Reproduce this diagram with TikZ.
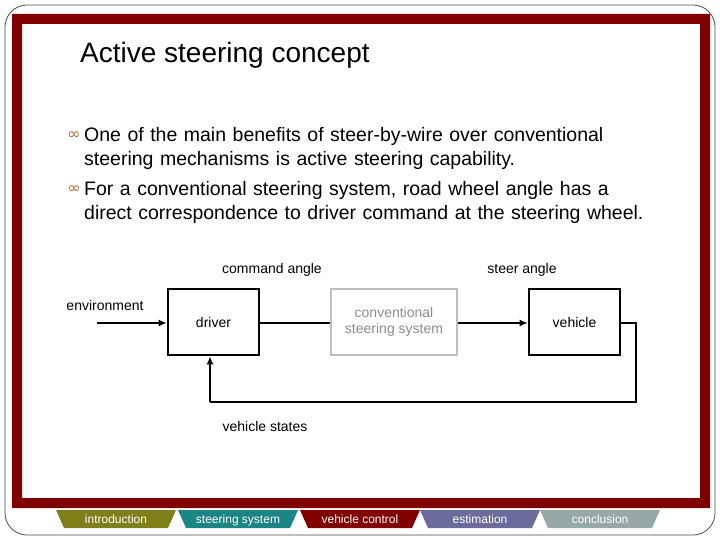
\documentclass[tikz,border=0pt]{standalone}
\usepackage{fontspec}
\usetikzlibrary{arrows.meta}
\setmainfont{Liberation Sans}
\newfontfamily\dejavu{DejaVu Sans}
\definecolor{frame}{HTML}{800000}
\definecolor{tabA}{HTML}{7F7F1A}
\definecolor{tabB}{HTML}{1A8585}
\definecolor{tabC}{HTML}{800000}
\definecolor{tabD}{HTML}{6B6B9C}
\definecolor{tabE}{HTML}{98A8A8}
\definecolor{bul}{HTML}{B07040}
\begin{document}
\begin{tikzpicture}[x=1pt,y=-1pt,
  blk/.style={draw,line width=2.6pt,minimum width=91pt,minimum height=66pt,font=\fontsize{14}{16}\selectfont},
  lbl/.style={font=\fontsize{14}{16}\selectfont},
  wire/.style={line width=2.6pt},
  arr/.style={wire,-{Latex[length=8pt,width=7pt]}},
  tabtxt/.style={text=white,anchor=base,font=\fontsize{12}{14}\selectfont},
  btxt/.style={anchor=west,font=\fontsize{19.5}{24}\selectfont,align=left,text width=630pt}]
\useasboundingbox (0,0) rectangle (720,540);
\fill[white] (0,0) rectangle (720,540);
\draw[black!70,line width=0.8pt,rounded corners=22pt] (5,5) rectangle (715,535);
\fill[frame,even odd rule] (12,14) rectangle (710,508) (22,24) rectangle (700,498);
% tabs
\foreach \x/\c/\t in {56/tabA/introduction,178/tabB/steering system,300/tabC/vehicle control,420/tabD/estimation,540/tabE/conclusion}{
  \fill[\c] (\x,510) -- (\x+120,510) -- (\x+112,528) -- (\x+8,528) -- cycle;
  \node[tabtxt] at (\x+60,523) {\t};
}
\node[anchor=base west,inner sep=0pt,font=\fontsize{28}{32}\selectfont] (title) at (80,63) {Active steering concept};
\node[text=bul,font=\dejavu\fontsize{16}{18}\selectfont] (b1) at (74,136) {∞};
\node[text=bul,font=\dejavu\fontsize{16}{18}\selectfont] (b2) at (74,190) {∞};
\node[btxt,inner sep=0pt] (t1) at (84,148) {One of the main benefits of steer-by-wire over conventional\\steering mechanisms is active steering capability.};
\node[btxt,inner sep=0pt] (t2) at (84,202) {For a conventional steering system, road wheel angle has a\\direct correspondence to driver command at the steering wheel.};
% diagram
\node[blk] (drv) at (213.5,322) {driver};
\node[blk,draw=black!25,text=black!45,minimum width=126pt,align=center] (css) at (394,322) {conventional\\steering system};
\node[blk] (veh) at (574.5,322) {vehicle};
\coordinate (env) at (97,323);
\coordinate (c1) at (636,323);
\coordinate (c2) at (636,402);
\coordinate (c3) at (210,402);
\draw[arr] (env) -- (drv.west|-env);
\draw[wire] (drv.east|-env) -- (css.west|-env);
\draw[arr] (css.east|-env) -- (veh.west|-env);
\draw[wire] (veh.east|-env) -- (c1) -- (c2) -- (c3);
\draw[arr] (c3) -- (c3|-drv.south);
\node[lbl] (la) at (272,270) {command angle};
\node[lbl] (lb) at (522,270) {steer angle};
\node[lbl] (lc) at (105,305) {environment};
\node[lbl] (ld) at (265,426) {vehicle states};
\end{tikzpicture}
\end{document}
